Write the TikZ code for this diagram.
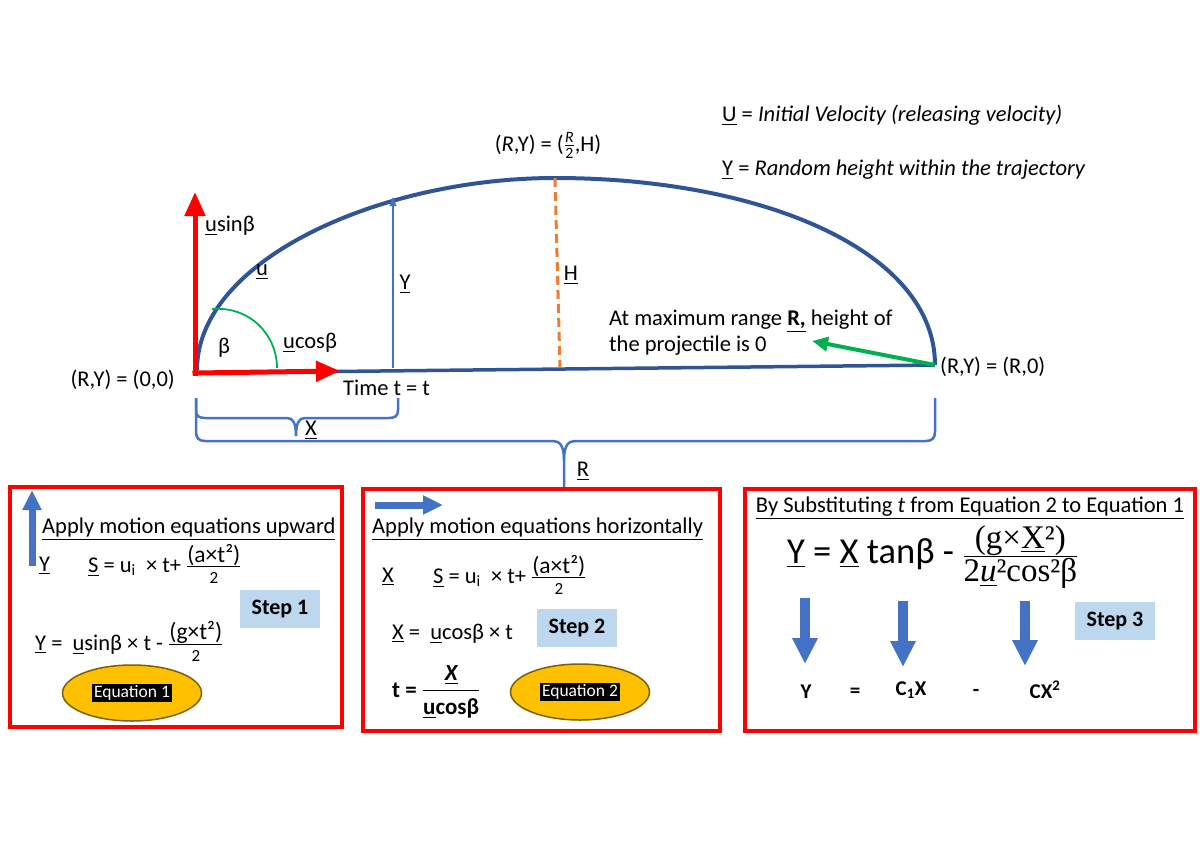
\documentclass[tikz,border=0pt]{standalone}
\usepackage{fontspec}
\usepackage{amsmath}
\setmainfont{Carlito}
\newfontfamily\cambria{Liberation Serif}
\usepackage{tikz}
\usetikzlibrary{arrows.meta, shapes.geometric}
\definecolor{trajblue}{RGB}{47,85,151}
\definecolor{midblue}{RGB}{68,114,196}
\definecolor{stepblue}{RGB}{189,215,238}
\definecolor{gold}{RGB}{255,192,0}
\definecolor{goldedge}{RGB}{127,96,0}
\definecolor{orng}{RGB}{237,125,49}
\definecolor{grn}{RGB}{0,176,80}
\newcommand{\fr}[2]{\ensuremath{\tfrac{\text{\fontsize{23.5}{25}\selectfont #1}}{\text{\fontsize{17}{19}\selectfont\raisebox{-4pt}{#2}}}}}
\newcommand{\bigfr}[2]{\ensuremath{\tfrac{\text{\cambria\fontsize{33}{35}\selectfont #1}}{\text{\cambria\fontsize{33}{35}\selectfont\raisebox{-3pt}{#2}}}}}
\tikzset{
  txt/.style={font=\fontsize{22.5}{26}\selectfont, inner sep=0pt},
  traj/.style={draw=trajblue, line width=4pt},
  ground/.style={draw=trajblue, line width=3.5pt},
  redarrow/.style={draw=red, line width=5pt, line cap=rect, -{Triangle[length=24pt,width=20pt]}},
  brace/.style={draw=midblue, line width=2.5pt},
  panel/.style={draw=red, line width=3.5pt},
  stepbox/.style={fill=stepblue, minimum width=80pt, minimum height=38pt, inner sep=0pt,
    font=\fontsize{22}{26}\selectfont\bfseries},
  eqoval/.style={ellipse, fill=gold, draw=goldedge, line width=1.5pt, minimum width=139pt, minimum height=56pt},
  eqtag/.style={fill=black, text=white, inner sep=2pt, font=\fontsize{17.5}{19}\selectfont},
  blockarrow/.style={draw=midblue, line width=7pt, -{Triangle[length=20pt,width=18pt]}},
  downarrow/.style={draw=midblue, line width=10pt, -{Triangle[length=26pt,width=24pt]}},
  rowtxt/.style={inner sep=0pt, font=\fontsize{21}{24}\selectfont\bfseries}
}
\begin{document}
\begin{tikzpicture}[x=1pt, y=-1pt]
  \useasboundingbox (0,0) rectangle (1200,849);
  % trajectory points
  \coordinate (O) at (195,373);
  \coordinate (vtip) at (195,192);
  \coordinate (htip) at (340,371);
  \coordinate (start) at (197,370);
  \coordinate (peak) at (555,178);
  \coordinate (land) at (935,365);
  \coordinate (ybase) at (393,368);
  \coordinate (ytop) at (393,197);
  \coordinate (hbase) at (560,368);
  \coordinate (gtip) at (812,341);
  \coordinate (arcA) at (212,309);
  \coordinate (arcB) at (277,368);

  \draw[ground] (O) -- (land);
  \draw[traj] (start) .. controls (197,260) and (380,178) .. (peak)
    .. controls (760,178) and (935,250) .. (land);
  \draw[draw=midblue, line width=1.2pt, -{Triangle[length=9pt,width=7pt]}] (ybase) -- (ytop);
  \draw[draw=orng, line width=3pt, dash pattern=on 9pt off 5pt] (peak) -- (hbase);
  \draw[draw=grn, line width=1.8pt] (arcA) .. controls (250,306) and (277,335) .. (arcB);
  \draw[redarrow] (O) -- (vtip);
  \draw[redarrow] (O) -- (htip);
  \draw[draw=grn, line width=4pt, -{Triangle[length=16pt,width=14pt]}] (land) -- (gtip);

  % labels on the path
  \node[txt, anchor=west] (usin) at (205,226) {\underline{u}sinβ};
  \node[txt] (ulab) at (262,272) {\underline{u}};
  \node[txt] (ylab) at (405,284) {\underline{Y}};
  \node[txt] (hlab) at (571,275) {\underline{H}};
  \node[txt] (beta) at (224,348) {β};
  \node[txt, anchor=west] (ucos) at (283,343) {\underline{u}cosβ};
  \node[txt, anchor=east] (origin) at (175,380) {(R,Y) = (0,0)};
  \node[txt, anchor=west] (time) at (343,388) {Time t = t};
  \node[txt, anchor=base] (top) at (548,151) {(\textit{R},Y) = ($\frac{\text{\textit{R}}}{\text{2}}$,H)};
  \node[txt, anchor=west] (defu) at (722,115) {\underline{U} = \textit{Initial Velocity (releasing velocity)}};
  \node[txt, anchor=west] (defy) at (722,170) {\underline{Y} = \textit{Random height within the trajectory}};
  \node[txt, anchor=west, align=left] (rangenote) at (609,333)
    {At maximum range \underline{\textbf{R,}} height of\\the projectile is 0};
  \node[txt, anchor=west] (landlab) at (940,367) {(R,Y) = (R,0)};

  % braces
  \draw[brace] (196,398) -- (196,410) .. controls (196,416) and (199,418) .. (205,418) -- (287,418)
    .. controls (293,418) and (296,423) .. (296,436)
    .. controls (296,423) and (299,418) .. (305,418) -- (389,418)
    .. controls (395,418) and (398,416) .. (398,410) -- (398,398);
  \draw[brace] (196,398) -- (196,432) .. controls (196,438) and (199,441) .. (205,441) -- (553,441)
    .. controls (560,441) and (564,446) .. (564,460) -- (564,487);
  \draw[brace] (564,460) .. controls (564,446) and (568,441) .. (575,441) -- (926,441)
    .. controls (932,441) and (935,438) .. (935,432) -- (935,398);
  \node[txt] (xlab) at (311,430) {\underline{X}};
  \node[txt] (rlab) at (583,471) {\underline{R}};

  % step 1
  \draw[panel] (10,487) rectangle (342,727);
  \draw[blockarrow] (32,566) -- (32,490);
  \node[txt, anchor=base west] (uphead) at (42,533) {\underline{Apply motion equations upward}};
  \node[txt, anchor=base west] (yvar) at (39,571) {\underline{Y}};
  \node[txt, anchor=base west] (suvert) at (88,572) {\underline{S} = u\textsubscript{i}\ \ × t+ \fr{(a×t²)}{2}};
  \node[stepbox] (step1) at (280,609) {Step 1};
  \node[txt, anchor=base west] (yeq) at (35,650) {\underline{Y} =\ \ \underline{u}sinβ × t - \fr{(g×t²)}{2}};
  \node[eqoval] (eq1) at (132,693) {};
  \node[eqtag] (eq1tag) at (eq1) {Equation 1};

  % step 2
  \draw[panel] (363,489) rectangle (720,731);
  \draw[blockarrow] (375,505) -- (443,505);
  \node[txt, anchor=base west] (horhead) at (372,533) {\underline{Apply motion equations horizontally}};
  \node[txt, anchor=base west] (xvar) at (382,582) {\underline{X}};
  \node[txt, anchor=base west] (suhor) at (433,583) {\underline{S} = u\textsubscript{i}\ \ × t+ \fr{(a×t²)}{2}};
  \node[txt, anchor=base west] (xeq) at (392,639) {\underline{X} =\ \ \underline{u}cosβ × t};
  \node[stepbox] (step2) at (577,628) {Step 2};
  \node[txt, anchor=base west, font=\fontsize{23}{26}\selectfont\bfseries] (teq) at (392,697)
    {t = $\dfrac{\text{\bfseries\itshape\underline{X}}}{\text{\bfseries\underline{u}cosβ}}$};
  \node[eqoval] (eq2) at (580,692) {};
  \node[eqtag] (eq2tag) at (eq2) {Equation 2};

  % step 3
  \draw[panel] (745,489) rectangle (1195,731);
  \node[txt, anchor=base] (subhead) at (970,512) {\underline{By Substituting \textit{t} from Equation 2 to Equation 1}};
  \node[txt, anchor=base west, font=\fontsize{36.5}{40}\selectfont] (bigeq) at (787,563)
    {\underline{Y} = \underline{X} tanβ - \bigfr{(g×\underline{X}²)}{2\underline{\textit{u}}²cos²β}};
  \draw[downarrow] (805,598) -- (805,664);
  \draw[downarrow] (903,601) -- (903,667);
  \draw[downarrow] (1025,601) -- (1025,666);
  \node[stepbox] (step3) at (1115,621) {Step 3};
  \node[rowtxt] (rY) at (806,692) {Y};
  \node[rowtxt] (rEq) at (855,693) {=};
  \node[rowtxt] (rC1) at (911,690) {C\textsubscript{1}X};
  \node[rowtxt] (rMinus) at (976,693) {-};
  \node[rowtxt] (rC) at (1045,690) {CX\textsuperscript{2}};
\end{tikzpicture}
\end{document}
